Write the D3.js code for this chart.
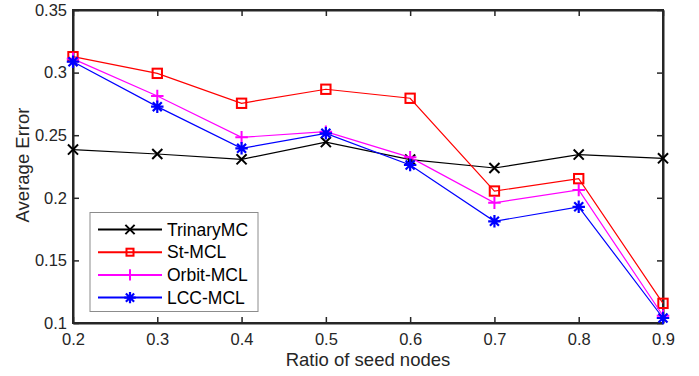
<!DOCTYPE html>
<html><head><meta charset="utf-8">
<script src="https://cdn.jsdelivr.net/npm/d3@7"></script>
<style>body{margin:0;background:#fff}svg{display:block}</style>
</head><body>
<svg id="c" width="699" height="376"></svg>
<script>
const ratios = [0.2,0.3,0.4,0.5,0.6,0.7,0.8,0.9];
const trinaryMC = [0.2385,0.2350,0.2307,0.2445,0.2305,0.2238,0.2345,0.2315];
const stMCL    = [0.3127,0.2994,0.2755,0.2867,0.2795,0.2054,0.2153,0.1157];
const orbitMCL = [0.3110,0.2813,0.2483,0.2528,0.2323,0.1960,0.2063,0.1058];
const lccMCL   = [0.3087,0.2728,0.2395,0.2515,0.2262,0.1812,0.1928,0.1040];
const seriesNames = ["TrinaryMC","St-MCL","Orbit-MCL","LCC-MCL"];
const xTicks = [0.2,0.3,0.4,0.5,0.6,0.7,0.8,0.9];
const yTicks = [0.1,0.15,0.2,0.25,0.3,0.35];

const series = [
  {name:seriesNames[0], values:trinaryMC, color:"#000000", marker:"x"},
  {name:seriesNames[1], values:stMCL, color:"#ff0000", marker:"square"},
  {name:seriesNames[2], values:orbitMCL, color:"#ff00ff", marker:"plus"},
  {name:seriesNames[3], values:lccMCL, color:"#0000ff", marker:"star"}
];

const L=73, R=663, T=10, B=323;
const svg = d3.select("#c");
const x = d3.scaleLinear().domain([0.2,0.9]).range([L,R]);
const y = d3.scaleLinear().domain([0.1,0.35]).range([B,T]);
const axisColor="#262626";
const font="'Liberation Sans', Arial, Helvetica, sans-serif";

const gx = svg.append("g").attr("transform",`translate(0,${B})`)
  .call(d3.axisBottom(x).tickValues(xTicks).tickFormat(d3.format("")).tickSizeInner(-6).tickSizeOuter(0).tickPadding(10));
const gxt = svg.append("g").attr("transform",`translate(0,${T})`)
  .call(d3.axisTop(x).tickValues(xTicks).tickFormat("").tickSizeInner(-6).tickSizeOuter(0));
const gy = svg.append("g").attr("transform",`translate(${L},0)`)
  .call(d3.axisLeft(y).tickValues(yTicks).tickFormat(d3.format("")).tickSizeInner(-6).tickSizeOuter(0).tickPadding(6));
const gyr = svg.append("g").attr("transform",`translate(${R},0)`)
  .call(d3.axisRight(y).tickValues(yTicks).tickFormat("").tickSizeInner(-6).tickSizeOuter(0));
[gx,gxt,gy,gyr].forEach(g=>{
  g.select(".domain").attr("stroke",axisColor).attr("stroke-width",2);
  g.selectAll(".tick line").attr("stroke",axisColor).attr("stroke-width",1.5);
  g.selectAll(".tick text").attr("fill",axisColor).style("font-family",font).style("font-size","16.5px");
});
gx.selectAll(".tick text").attr("dy","0.71em");
svg.append("rect").attr("x",L).attr("y",T).attr("width",R-L).attr("height",B-T)
  .attr("fill","none").attr("stroke",axisColor).attr("stroke-width",2);

function drawMarker(g, type, cx, cy, color, s){
  if(type==="x"){
    const h=s*0.42;
    g.append("path").attr("d",`M${cx-h},${cy-h}L${cx+h},${cy+h}M${cx-h},${cy+h}L${cx+h},${cy-h}`)
      .attr("stroke",color).attr("stroke-width",2).attr("fill","none");
  } else if(type==="square"){
    const h=s*0.39;
    g.append("rect").attr("x",cx-h).attr("y",cy-h).attr("width",2*h).attr("height",2*h)
      .attr("stroke",color).attr("stroke-width",2).attr("fill","none");
  } else if(type==="plus"){
    const h=s*0.52;
    g.append("path").attr("d",`M${cx-h},${cy}L${cx+h},${cy}M${cx},${cy-h}L${cx},${cy+h}`)
      .attr("stroke",color).attr("stroke-width",2).attr("fill","none");
  } else if(type==="star"){
    const h=s*0.52, d=h*0.72;
    g.append("path").attr("d",`M${cx-h},${cy}L${cx+h},${cy}M${cx},${cy-h}L${cx},${cy+h}M${cx-d},${cy-d}L${cx+d},${cy+d}M${cx-d},${cy+d}L${cx+d},${cy-d}`)
      .attr("stroke",color).attr("stroke-width",2.2).attr("fill","none");
  }
}

const line = d3.line().x((d,i)=>x(ratios[i])).y(d=>y(d));
series.forEach(s=>{
  const g = svg.append("g");
  g.append("path").attr("d",line(s.values)).attr("fill","none").attr("stroke",s.color).attr("stroke-width",1.2);
  s.values.forEach((v,i)=>drawMarker(g,s.marker,x(ratios[i]),y(v),s.color,12));
});

const lg = svg.append("g");
lg.append("rect").attr("x",90).attr("y",212.5).attr("width",168).attr("height",99)
  .attr("fill","#fff").attr("stroke","#8c8c8c").attr("stroke-width",1);
series.forEach((s,i)=>{
  const yy = 229.5 + i*22.7;
  lg.append("line").attr("x1",98).attr("x2",162).attr("y1",yy).attr("y2",yy).attr("stroke",s.color).attr("stroke-width",2);
  drawMarker(lg,s.marker,130,yy,s.color,s.marker==="square"?9:11);
  lg.append("text").attr("x",167).attr("y",yy).attr("dy","0.35em").text(s.name)
    .attr("fill","#000").style("font-family",font).style("font-size","17.5px");
});

svg.append("text").attr("x",(L+R)/2).attr("y",366).attr("text-anchor","middle")
  .text("Ratio of seed nodes").attr("fill",axisColor).style("font-family",font).style("font-size","18.5px");
svg.append("text").attr("transform",`translate(29,165) rotate(-90)`).attr("text-anchor","middle")
  .text("Average Error").attr("fill",axisColor).style("font-family",font).style("font-size","18.5px");
</script>
</body></html>
